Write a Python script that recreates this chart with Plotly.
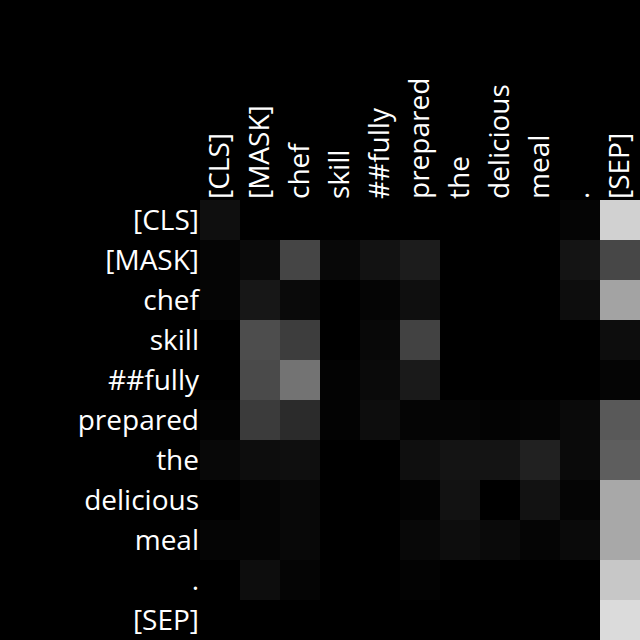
import plotly.graph_objects as go

tokens = ["[CLS]", "[MASK]", "chef", "skill", "##fully", "prepared",
          "the", "delicious", "meal", ".", "[SEP]"]

# attention weights (rows = query token, columns = key token)
row_cls      = [0.06, 0.00, 0.00, 0.00, 0.00, 0.00, 0.00, 0.00, 0.00, 0.02, 0.82]
row_mask     = [0.02, 0.04, 0.27, 0.03, 0.07, 0.11, 0.00, 0.00, 0.00, 0.08, 0.28]
row_chef     = [0.02, 0.09, 0.04, 0.00, 0.02, 0.06, 0.00, 0.00, 0.00, 0.05, 0.64]
row_skill    = [0.00, 0.30, 0.24, 0.00, 0.03, 0.26, 0.00, 0.00, 0.00, 0.00, 0.05]
row_fully    = [0.00, 0.29, 0.45, 0.01, 0.04, 0.10, 0.00, 0.00, 0.00, 0.00, 0.02]
row_prepared = [0.01, 0.23, 0.17, 0.01, 0.05, 0.02, 0.02, 0.01, 0.02, 0.04, 0.35]
row_the      = [0.03, 0.05, 0.06, 0.00, 0.00, 0.06, 0.08, 0.08, 0.13, 0.04, 0.37]
row_delic    = [0.00, 0.02, 0.03, 0.00, 0.00, 0.01, 0.07, 0.00, 0.07, 0.02, 0.66]
row_meal     = [0.02, 0.02, 0.03, 0.00, 0.00, 0.03, 0.05, 0.04, 0.02, 0.04, 0.66]
row_dot      = [0.00, 0.05, 0.02, 0.00, 0.00, 0.01, 0.00, 0.00, 0.00, 0.00, 0.78]
row_sep      = [0.00, 0.00, 0.00, 0.00, 0.00, 0.00, 0.00, 0.00, 0.00, 0.00, 0.86]

z = [row_cls, row_mask, row_chef, row_skill, row_fully, row_prepared,
     row_the, row_delic, row_meal, row_dot, row_sep]

fig = go.Figure(go.Heatmap(
    z=z, x=tokens, y=tokens,
    colorscale=[[0, "#000000"], [1, "#ffffff"]],
    zmin=0, zmax=1, showscale=False, hoverongaps=False,
))

font = dict(family="Open Sans, Noto Sans, sans-serif", size=28, color="white")
fig.update_layout(
    width=640, height=640,
    margin=dict(l=200, r=0, t=200, b=0),
    paper_bgcolor="black", plot_bgcolor="black",
    font=font,
    xaxis=dict(side="top", tickangle=-90, showgrid=False, zeroline=False,
               ticks="", tickfont=font, type="category"),
    yaxis=dict(autorange="reversed", showgrid=False, zeroline=False,
               ticks="", tickfont=font, type="category"),
)

fig.write_html("out.html")
